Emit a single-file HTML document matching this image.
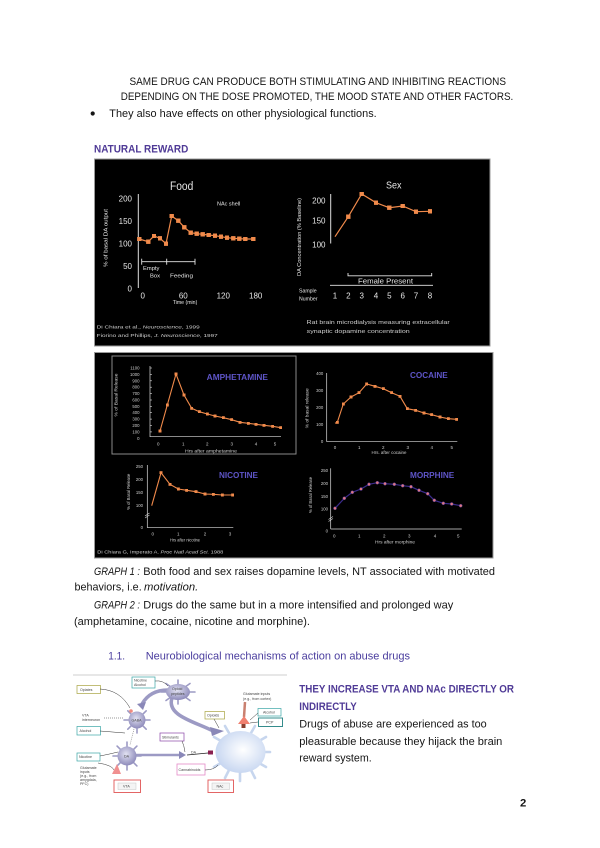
<!DOCTYPE html>
<html>
<head>
<meta charset="utf-8">
<style>
html,body{margin:0;padding:0;background:#fff;}
svg{display:block;}
.t{font-family:"Liberation Sans",Arial,sans-serif;font-size:11.3px;fill:#151515;}
.h{font-family:"Liberation Sans",Arial,sans-serif;font-size:11.3px;font-weight:bold;fill:#4f3a96;}
.w{font-family:"Liberation Sans",Arial,sans-serif;fill:#e6e6e6;}
.g{font-family:"Liberation Sans",Arial,sans-serif;fill:#cfcfcf;}
.d{font-family:"Liberation Sans",Arial,sans-serif;font-weight:bold;fill:#5e55c8;font-size:8px;}
.s{font-family:"Liberation Sans",Arial,sans-serif;fill:#444;font-size:3.6px;}
</style>
</head>
<body>
<svg width="600" height="848" viewBox="0 0 600 848" xmlns="http://www.w3.org/2000/svg">
<defs>
<marker id="sqF" markerWidth="4.4" markerHeight="4.4" refX="2.2" refY="2.2" markerUnits="userSpaceOnUse"><rect width="4.4" height="4.4" fill="#f08a4b"/></marker>
<marker id="sqS" markerWidth="3" markerHeight="3" refX="1.5" refY="1.5" markerUnits="userSpaceOnUse"><rect width="3" height="3" fill="#f08a4b"/></marker>
<marker id="ciM" markerWidth="4" markerHeight="4" refX="2" refY="2" markerUnits="userSpaceOnUse"><circle cx="2" cy="2" r="1.5" fill="#e07a80" stroke="#5a3aa0" stroke-width="0.5"/></marker>
<radialGradient id="neu" cx="45%" cy="40%" r="60%"><stop offset="0" stop-color="#e2e2f2"/><stop offset="1" stop-color="#8e8bbb"/></radialGradient>
<radialGradient id="cell" cx="55%" cy="45%" r="60%"><stop offset="0" stop-color="#ffffff"/><stop offset="1" stop-color="#c4d4f0"/></radialGradient>
</defs>

<!-- Top text -->
<text class="t" x="129.5" y="85" textLength="376.5" lengthAdjust="spacingAndGlyphs">SAME DRUG CAN PRODUCE BOTH STIMULATING AND INHIBITING REACTIONS</text>
<text class="t" x="120.7" y="100" textLength="392.6" lengthAdjust="spacingAndGlyphs">DEPENDING ON THE DOSE PROMOTED, THE MOOD STATE AND OTHER FACTORS.</text>
<circle cx="92.7" cy="113.5" r="2.1" fill="#151515"/>
<text class="t" x="109.3" y="117" textLength="267.4" lengthAdjust="spacingAndGlyphs">They also have effects on other physiological functions.</text>
<text class="h" x="94" y="152.3" textLength="94.3" lengthAdjust="spacingAndGlyphs">NATURAL REWARD</text>

<!-- Natural reward black box -->
<rect x="94.5" y="159" width="395.5" height="187" fill="#000" stroke="#9a9a9a" stroke-width="1"/>

<!-- Food chart -->
<text class="w" x="170" y="190" font-size="11.5" textLength="23.3" lengthAdjust="spacingAndGlyphs">Food</text>
<line x1="138.3" y1="194" x2="138.3" y2="288" stroke="#e0e0e0" stroke-width="1"/>
<g class="w" font-size="8" text-anchor="end">
<text x="132" y="201.3">200</text>
<text x="132" y="223.8">150</text>
<text x="132" y="246.3">100</text>
<text x="132" y="268.8">50</text>
<text x="132" y="291.3">0</text>
</g>
<g class="w" font-size="8" text-anchor="middle">
<text x="142.7" y="298.5">0</text>
<text x="183.3" y="298.5">60</text>
<text x="223.3" y="298.5">120</text>
<text x="255.7" y="298.5">180</text>
</g>
<text class="w" x="185" y="303.8" font-size="5.2" text-anchor="middle">Time (min)</text>
<text class="w" x="217" y="205.5" font-size="5.5">NAc shell</text>
<text class="w" transform="rotate(-90 107.5 238)" x="107.5" y="238" font-size="5.2" text-anchor="middle" textLength="58" lengthAdjust="spacingAndGlyphs">% of basal DA output</text>
<g stroke="#e6e6e6" stroke-width="0.9">
<line x1="141.7" y1="261.7" x2="195" y2="261.7"/>
<line x1="141.7" y1="258.7" x2="141.7" y2="264.7"/>
<line x1="166.7" y1="258.7" x2="166.7" y2="264.7"/>
<line x1="195" y1="258.7" x2="195" y2="264.7"/>
</g>
<text class="w" x="143" y="270" font-size="5.8">Empty</text>
<text class="w" x="150" y="277.5" font-size="5.8">Box</text>
<text class="w" x="170" y="277.5" font-size="5.8" textLength="23" lengthAdjust="spacingAndGlyphs">Feeding</text>
<polyline points="139.3,239 148.3,241.7 154,236 160,238.3 166,243.7 171.7,216 178.3,220.7 184.3,227.3 190.7,232.7 196.7,233.7 202.7,234.3 208.7,235 215,235.7 221,236.7 227,237.7 233.3,238.3 239.3,238.7 245.3,239 253.3,239" fill="none" stroke="#f08a4b" stroke-width="1.2" marker-start="url(#sqF)" marker-mid="url(#sqF)" marker-end="url(#sqF)"/>
<text class="g" x="96.7" y="328.5" font-size="4.6" textLength="103" lengthAdjust="spacingAndGlyphs">Di Chiara et al., <tspan font-style="italic">Neuroscience</tspan>, 1999</text>
<text class="g" x="96.7" y="337" font-size="4.6" textLength="121" lengthAdjust="spacingAndGlyphs">Fiorino and Phillips, <tspan font-style="italic">J. Neuroscience</tspan>, 1997</text>

<!-- Sex chart -->
<text class="w" x="386" y="188.5" font-size="10.5" textLength="15.5" lengthAdjust="spacingAndGlyphs">Sex</text>
<line x1="330.7" y1="194" x2="330.7" y2="243.5" stroke="#e0e0e0" stroke-width="1"/>
<g class="w" font-size="8" text-anchor="end">
<text x="325.5" y="203.3">200</text>
<text x="325.5" y="223.3">150</text>
<text x="325.5" y="247.5">100</text>
</g>
<text class="w" transform="rotate(-90 301 237)" x="301" y="237" font-size="5.2" text-anchor="middle" textLength="78" lengthAdjust="spacingAndGlyphs">DA Concentration (% Baseline)</text>
<polyline points="335,236.7 348.3,216.7 361.7,194 376,202.7 389.3,207.7 402.7,206 416,211.7 430,211.3" fill="none" stroke="#f08a4b" stroke-width="1.2" marker-mid="url(#sqF)" marker-end="url(#sqF)"/>
<polyline points="348,273 348,275.8 431.7,275.8 431.7,273" fill="none" stroke="#e6e6e6" stroke-width="0.9"/>
<text class="w" x="358" y="283.3" font-size="7" textLength="55" lengthAdjust="spacingAndGlyphs">Female Present</text>
<line x1="330" y1="285.3" x2="433" y2="285.3" stroke="#e6e6e6" stroke-width="0.9"/>
<g class="w" font-size="8" text-anchor="middle">
<text x="335" y="298.3">1</text><text x="348.3" y="298.3">2</text><text x="361.7" y="298.3">3</text><text x="376" y="298.3">4</text>
<text x="389.3" y="298.3">5</text><text x="402.7" y="298.3">6</text><text x="416" y="298.3">7</text><text x="430" y="298.3">8</text>
</g>
<text class="w" x="299" y="292.5" font-size="5.2">Sample</text>
<text class="w" x="299" y="300.5" font-size="5.2">Number</text>
<text class="g" x="306.7" y="324" font-size="5.2" textLength="143" lengthAdjust="spacingAndGlyphs">Rat brain microdialysis measuring extracellular</text>
<text class="g" x="306.7" y="333" font-size="5.2" textLength="103" lengthAdjust="spacingAndGlyphs">synaptic dopamine concentration</text>

<!-- Drugs black box -->
<rect x="94.5" y="352.5" width="398.5" height="205.5" fill="#000" stroke="#9a9a9a" stroke-width="1"/>
<rect x="112" y="356" width="184" height="98" fill="none" stroke="#8a8a8a" stroke-width="1"/>

<!-- Amphetamine -->
<line x1="150" y1="366" x2="150" y2="437" stroke="#ddd" stroke-width="0.7"/>
<line x1="150" y1="436.7" x2="281" y2="436.7" stroke="#ddd" stroke-width="0.7"/>
<g class="g" font-size="4.3" text-anchor="end">
<text x="139.5" y="369.5">1100</text><text x="139.5" y="375.9">1000</text><text x="139.5" y="382.3">900</text><text x="139.5" y="388.7">800</text>
<text x="139.5" y="395.1">700</text><text x="139.5" y="401.5">600</text><text x="139.5" y="407.8">500</text><text x="139.5" y="414.2">400</text>
<text x="139.5" y="420.6">300</text><text x="139.5" y="427">200</text><text x="139.5" y="433.4">100</text><text x="139.5" y="439.8">0</text>
</g>
<g stroke="#ddd" stroke-width="0.6">
<line x1="150" y1="368" x2="152" y2="368"/><line x1="150" y1="374.4" x2="152" y2="374.4"/><line x1="150" y1="380.8" x2="152" y2="380.8"/><line x1="150" y1="387.2" x2="152" y2="387.2"/><line x1="150" y1="393.6" x2="152" y2="393.6"/><line x1="150" y1="400" x2="152" y2="400"/><line x1="150" y1="406.3" x2="152" y2="406.3"/><line x1="150" y1="412.7" x2="152" y2="412.7"/><line x1="150" y1="419.1" x2="152" y2="419.1"/><line x1="150" y1="425.5" x2="152" y2="425.5"/><line x1="150" y1="431.9" x2="152" y2="431.9"/>
</g>
<g class="g" font-size="4.5" text-anchor="middle">
<text x="158.3" y="445.5">0</text><text x="183.3" y="445.5">1</text><text x="207.3" y="445.5">2</text><text x="231.7" y="445.5">3</text><text x="256" y="445.5">4</text><text x="275" y="445.5">5</text>
</g>
<text class="g" x="211" y="452.5" font-size="4.3" text-anchor="middle" textLength="52" lengthAdjust="spacingAndGlyphs">Hrs after amphetamine</text>
<text class="g" transform="rotate(-90 117.5 395)" x="117.5" y="395" font-size="4.3" text-anchor="middle" textLength="43" lengthAdjust="spacingAndGlyphs">% of Basal Release</text>
<text class="d" x="206.7" y="380" textLength="61.3" lengthAdjust="spacingAndGlyphs">AMPHETAMINE</text>
<polyline points="160,431 167.3,405 176,374 184,395 191.7,408.3 199.3,411.7 207.3,414 215,416 223.3,417.7 231.7,419.7 240,422.3 248.3,423.3 256,424.3 264,425.3 272.7,426.3 280.7,427.7" fill="none" stroke="#f08a4b" stroke-width="1.1" marker-start="url(#sqS)" marker-mid="url(#sqS)" marker-end="url(#sqS)"/>

<!-- Nicotine -->
<line x1="147.3" y1="465" x2="147.3" y2="527.7" stroke="#ddd" stroke-width="0.7"/>
<line x1="147.3" y1="527.7" x2="233.3" y2="527.7" stroke="#ddd" stroke-width="0.7"/>
<g class="g" font-size="4.3" text-anchor="end">
<text x="143" y="468.2">250</text><text x="143" y="481">200</text><text x="143" y="493.8">150</text><text x="143" y="507">100</text><text x="143" y="529.2">0</text>
</g>
<line x1="145" y1="516" x2="149.5" y2="513" stroke="#ddd" stroke-width="0.6"/>
<line x1="145" y1="518" x2="149.5" y2="515" stroke="#ddd" stroke-width="0.6"/>
<g class="g" font-size="4.5" text-anchor="middle">
<text x="152.7" y="535.5">0</text><text x="178.3" y="535.5">1</text><text x="205" y="535.5">2</text><text x="230" y="535.5">3</text>
</g>
<text class="g" x="185" y="541.3" font-size="4.3" text-anchor="middle" textLength="30" lengthAdjust="spacingAndGlyphs">Hrs after nicotine</text>
<text class="g" transform="rotate(-90 130 491.7)" x="130" y="491.7" font-size="4.3" text-anchor="middle" textLength="36" lengthAdjust="spacingAndGlyphs">% of Basal Release</text>
<text class="d" x="219" y="478" textLength="39" lengthAdjust="spacingAndGlyphs">NICOTINE</text>
<polyline points="151.7,505.7 161,472.7 170,484.3 178.3,489 186.7,490.3 196,491.7 205,494 213.3,494.3 222.3,495 232.7,495" fill="none" stroke="#f08a4b" stroke-width="1.1" marker-mid="url(#sqS)" marker-end="url(#sqS)"/>
<text class="g" x="97.3" y="553.5" font-size="4.8" textLength="126" lengthAdjust="spacingAndGlyphs">Di Chiara G, Imperato A. <tspan font-style="italic">Proc Natl Acad Sci.</tspan> 1988</text>

<!-- Cocaine -->
<line x1="326.7" y1="373" x2="326.7" y2="441.7" stroke="#ddd" stroke-width="0.7"/>
<line x1="326.7" y1="441.7" x2="457.3" y2="441.7" stroke="#ddd" stroke-width="0.7"/>
<g class="g" font-size="4.3" text-anchor="end">
<text x="323.3" y="374.8">400</text><text x="323.3" y="391.9">300</text><text x="323.3" y="409">200</text><text x="323.3" y="426.1">100</text><text x="323.3" y="443.2">0</text>
</g>
<g class="g" font-size="4.5" text-anchor="middle">
<text x="335" y="449">0</text><text x="359.3" y="449">1</text><text x="383.3" y="449">2</text><text x="407.7" y="449">3</text><text x="431.7" y="449">4</text><text x="451.7" y="449">5</text>
</g>
<text class="g" x="389" y="453.8" font-size="4.3" text-anchor="middle" textLength="35" lengthAdjust="spacingAndGlyphs">Hrs. after cocaine</text>
<text class="g" transform="rotate(-90 308.5 408.3)" x="308.5" y="408.3" font-size="4.3" text-anchor="middle" textLength="40" lengthAdjust="spacingAndGlyphs">% of basal release</text>
<text class="d" x="410" y="378" textLength="37.7" lengthAdjust="spacingAndGlyphs">COCAINE</text>
<polyline points="335,423.3 337.3,422.3 343.3,404 351,397 359,392.7 366.7,384 375,386.3 383.3,388.7 391.7,392.7 400,396.3 407.3,408.7 415.7,410.3 424,413 431.7,414.7 440,417 448.3,418.7 456.7,419.3" fill="none" stroke="#f08a4b" stroke-width="1.1" marker-mid="url(#sqS)" marker-end="url(#sqS)"/>

<!-- Morphine -->
<line x1="330.7" y1="468.3" x2="330.7" y2="529" stroke="#ddd" stroke-width="0.7"/>
<line x1="330.7" y1="529" x2="461.7" y2="529" stroke="#ddd" stroke-width="0.7"/>
<g class="g" font-size="4.3" text-anchor="end">
<text x="328" y="472.2">250</text><text x="328" y="485">200</text><text x="328" y="497.8">150</text><text x="328" y="510.6">100</text><text x="328" y="532.5">0</text>
</g>
<line x1="328.5" y1="519.5" x2="333" y2="516.5" stroke="#ddd" stroke-width="0.6"/>
<line x1="328.5" y1="521.5" x2="333" y2="518.5" stroke="#ddd" stroke-width="0.6"/>
<g class="g" font-size="4.5" text-anchor="middle">
<text x="334.3" y="537.5">0</text><text x="359.3" y="537.5">1</text><text x="384.3" y="537.5">2</text><text x="409.3" y="537.5">3</text><text x="435" y="537.5">4</text><text x="458.3" y="537.5">5</text>
</g>
<text class="g" x="395" y="543.3" font-size="4.3" text-anchor="middle" textLength="40" lengthAdjust="spacingAndGlyphs">Hrs after morphine</text>
<text class="g" transform="rotate(-90 312 495)" x="312" y="495" font-size="4.3" text-anchor="middle" textLength="36" lengthAdjust="spacingAndGlyphs">% of Basal Release</text>
<text class="d" x="410" y="478" textLength="44.3" lengthAdjust="spacingAndGlyphs">MORPHINE</text>
<polyline points="335,508.3 344.3,498.3 352.3,492.3 361,489 369,484.3 377.3,482.7 385,483.7 394.3,484.3 402.7,485.7 411,486.7 419,490.3 427.7,493.7 434.3,500.3 443.3,503.3 451.7,504 460.7,505.7" fill="none" stroke="#3a2a8a" stroke-width="1.2" marker-start="url(#ciM)" marker-mid="url(#ciM)" marker-end="url(#ciM)"/>

<!-- Paragraph text -->
<text class="t" x="94" y="575" font-style="italic" textLength="46" lengthAdjust="spacingAndGlyphs">GRAPH 1 :</text>
<text class="t" x="143.3" y="575" textLength="351.7" lengthAdjust="spacingAndGlyphs">Both food and sex raises dopamine levels, NT associated with motivated</text>
<text class="t" x="74.5" y="590.7" textLength="67.2" lengthAdjust="spacingAndGlyphs">behaviors, i.e.</text>
<text class="t" x="144" y="590.7" font-style="italic" textLength="54.3" lengthAdjust="spacingAndGlyphs">motivation.</text>
<text class="t" x="94" y="608.3" font-style="italic" textLength="46" lengthAdjust="spacingAndGlyphs">GRAPH 2 :</text>
<text class="t" x="143.3" y="608.3" textLength="310" lengthAdjust="spacingAndGlyphs">Drugs do the same but in a more intensified and prolonged way</text>
<text class="t" x="74" y="625" textLength="236" lengthAdjust="spacingAndGlyphs">(amphetamine, cocaine, nicotine and morphine).</text>

<text class="t" x="108.3" y="659.3" style="fill:#4a3d9e" textLength="16.7" lengthAdjust="spacingAndGlyphs">1.1.</text>
<text class="t" x="145.7" y="659.3" style="fill:#4a3d9e" textLength="264.3" lengthAdjust="spacingAndGlyphs">Neurobiological mechanisms of action on abuse drugs</text>

<!-- Right side text -->
<text class="h" x="299.3" y="692.7" textLength="214.7" lengthAdjust="spacingAndGlyphs">THEY INCREASE VTA AND NAc DIRECTLY OR</text>
<text class="h" x="299.3" y="710" textLength="57.4" lengthAdjust="spacingAndGlyphs">INDIRECTLY</text>
<text class="t" x="299.3" y="727.3" textLength="187.4" lengthAdjust="spacingAndGlyphs">Drugs of abuse are experienced as too</text>
<text class="t" x="299.3" y="745" textLength="203" lengthAdjust="spacingAndGlyphs">pleasurable because they hijack the brain</text>
<text class="t" x="299.3" y="761.7" textLength="72.4" lengthAdjust="spacingAndGlyphs">reward system.</text>
<text class="t" x="520" y="806.7" font-weight="bold">2</text>

<!-- Diagram -->
<g>
<line x1="73" y1="675" x2="287" y2="675" stroke="#cfcfcf" stroke-width="1"/>
<!-- axons -->
<path d="M172,698 C166,716 196,722 213,731" stroke="#9c9ac4" stroke-width="3.5" fill="none"/>
<path d="M210,727 L224,731 L212,736 Z" fill="#8a88b8"/>
<path d="M168,690 Q150,690 142,704" stroke="#9c9ac4" stroke-width="3.5" fill="none"/>
<path d="M137,704 L146,702 L143,710 Z" fill="#8a88b8"/>
<path d="M136,755 L181,755" stroke="#9c9ac4" stroke-width="2.5"/>
<path d="M179,751 L186,755 L179,759 Z" fill="#8a88b8"/>
<line x1="187" y1="755" x2="208" y2="753" stroke="#222" stroke-width="0.7"/>
<rect x="208" y="750.5" width="5" height="4" fill="#8a2050"/>
<text class="s" x="191" y="753.5">DA</text>
<line x1="134" y1="729" x2="130" y2="745" stroke="#777" stroke-width="0.6" stroke-dasharray="1,1"/>
<!-- neuron spikes -->
<g stroke="#9c9ac4" stroke-width="1.6" stroke-linecap="round">
<line x1="178" y1="692" x2="195" y2="692"/><line x1="178" y1="692" x2="190" y2="700.5"/><line x1="178" y1="692" x2="178" y2="704"/><line x1="178" y1="692" x2="166" y2="700.5"/><line x1="178" y1="692" x2="161" y2="692"/><line x1="178" y1="692" x2="166" y2="683.5"/><line x1="178" y1="692" x2="178" y2="680"/><line x1="178" y1="692" x2="190" y2="683.5"/>
<line x1="137" y1="720" x2="150" y2="720"/><line x1="137" y1="720" x2="146.2" y2="729.2"/><line x1="137" y1="720" x2="137" y2="733"/><line x1="137" y1="720" x2="127.8" y2="729.2"/><line x1="137" y1="720" x2="124" y2="720"/><line x1="137" y1="720" x2="127.8" y2="710.8"/><line x1="137" y1="720" x2="146.2" y2="710.8"/>
<line x1="127" y1="756" x2="141" y2="756"/><line x1="127" y1="756" x2="136.9" y2="765.9"/><line x1="127" y1="756" x2="127" y2="770"/><line x1="127" y1="756" x2="117.1" y2="765.9"/><line x1="127" y1="756" x2="113" y2="756"/><line x1="127" y1="756" x2="117.1" y2="746.1"/><line x1="127" y1="756" x2="127" y2="742"/><line x1="127" y1="756" x2="136.9" y2="746.1"/>
</g>
<ellipse cx="178" cy="692" rx="12" ry="8" fill="url(#neu)"/>
<circle cx="137" cy="720" r="8.5" fill="url(#neu)"/>
<circle cx="127" cy="756" r="9.5" fill="url(#neu)"/>
<text class="s" x="172" y="690">Opioid</text><text class="s" x="171" y="695">peptides</text>
<text class="s" x="131.5" y="721.5">GABA</text>
<text class="s" x="124" y="757.5">DA</text>
<!-- big cell -->
<g stroke="#c7d6ee" stroke-width="2.6" stroke-linecap="round">
<line x1="262" y1="752" x2="270" y2="752"/><line x1="259" y1="763" x2="266" y2="767"/><line x1="251" y1="770" x2="255" y2="778"/><line x1="240" y1="772" x2="240" y2="781"/><line x1="229" y1="770" x2="225" y2="778"/><line x1="221" y1="763" x2="214" y2="767"/><line x1="221" y1="741" x2="214" y2="737"/><line x1="229" y1="733" x2="225" y2="726"/><line x1="251" y1="733" x2="255" y2="726"/><line x1="259" y1="741" x2="266" y2="737"/>
</g>
<ellipse cx="240.5" cy="752" rx="25" ry="21" fill="url(#cell)"/>
<!-- glutamate terminal top -->
<line x1="245" y1="702" x2="244" y2="717" stroke="#c98070" stroke-width="2.5"/>
<path d="M238,724 L244,716 L250,724 Z" fill="#f08070"/>
<rect x="241.5" y="724" width="4" height="4" fill="#8a4030"/>
<!-- left terminal red -->
<path d="M112,774 L117,764 L121,774 Z" fill="#f09090"/>
<circle cx="131" cy="711" r="1.8" fill="#f08a80"/>
<!-- label boxes -->
<rect x="132" y="677" width="23" height="11" fill="#fff" stroke="#3aa5a5" stroke-width="0.7"/>
<text class="s" x="134" y="681.5">Nicotine</text><text class="s" x="134" y="686">Alcohol</text>
<rect x="77" y="685.5" width="23.5" height="8" fill="#fff" stroke="#a8a440" stroke-width="0.7"/>
<text class="s" x="80" y="690.8">Opiates</text>
<text class="s" x="82" y="716.5">VTA</text><text class="s" x="82" y="721">interneuron</text>
<rect x="77" y="726.5" width="23.5" height="8.5" fill="#fff" stroke="#3aa5a5" stroke-width="0.7"/>
<text class="s" x="79.5" y="732">Alcohol</text>
<rect x="77" y="753" width="23" height="8" fill="#fff" stroke="#3aa5a5" stroke-width="0.7"/>
<text class="s" x="79" y="758.2">Nicotine</text>
<text class="s" x="80" y="769">Glutamate</text><text class="s" x="80" y="773">inputs</text><text class="s" x="80" y="777">(e.g., from</text><text class="s" x="80" y="781">amygdala,</text><text class="s" x="80" y="785">PFC)</text>
<rect x="114" y="780" width="26.5" height="12.5" fill="#fff" stroke="#e05555" stroke-width="0.9"/>
<rect x="118" y="783" width="18" height="6.5" fill="#f4f4f4" stroke="#bbb" stroke-width="0.4"/>
<text class="s" x="123" y="787.5">VTA</text>
<rect x="160" y="733" width="24" height="8" fill="#fff" stroke="#8a45a8" stroke-width="0.7"/>
<text class="s" x="162" y="738.3">Stimulants</text>
<rect x="177" y="764" width="28" height="11" fill="#fff" stroke="#e48ac8" stroke-width="0.8"/>
<text class="s" x="178.5" y="771">Cannabinoids</text>
<rect x="208" y="780" width="25.5" height="12.5" fill="#fff" stroke="#e05555" stroke-width="0.9"/>
<rect x="212" y="783" width="17.5" height="6.5" fill="#f4f4f4" stroke="#bbb" stroke-width="0.4"/>
<text class="s" x="216.5" y="787.5">NAc</text>
<rect x="205" y="711.5" width="19.5" height="7.5" fill="#fff" stroke="#a8a440" stroke-width="0.7"/>
<text class="s" x="207" y="716.5">Opioids</text>
<text class="s" x="243" y="695">Glutamate inputs</text><text class="s" x="243" y="700">(e.g., from cortex)</text>
<rect x="258" y="708.5" width="23" height="7.5" fill="#fff" stroke="#3aa5a5" stroke-width="0.7"/>
<text class="s" x="263" y="713.5">Alcohol</text>
<rect x="258.5" y="718" width="24" height="8.5" fill="#fff" stroke="#208080" stroke-width="0.9"/>
<text class="s" x="266" y="723.5">PCP</text>
<!-- arrows -->
<g stroke="#333" stroke-width="0.5" fill="none">
<path d="M100,689 Q120,690 130,708"/>
<path d="M155,681 Q163,680 168,686"/>
<path d="M100,731 L125,733"/>
<path d="M100,756 Q110,754 118,752"/>
<path d="M98,763 Q112,765 114,770"/>
<path d="M182,741 Q184,745 185,752"/>
<path d="M205,770 Q214,770 218,765"/>
<path d="M214,719 L219,728"/>
<path d="M258,713 L250,720"/>
<path d="M258,722 L250,723"/>
<path d="M104,718 L124,718" stroke-dasharray="1,1"/>
</g>
</g>
</svg>
</body>
</html>
